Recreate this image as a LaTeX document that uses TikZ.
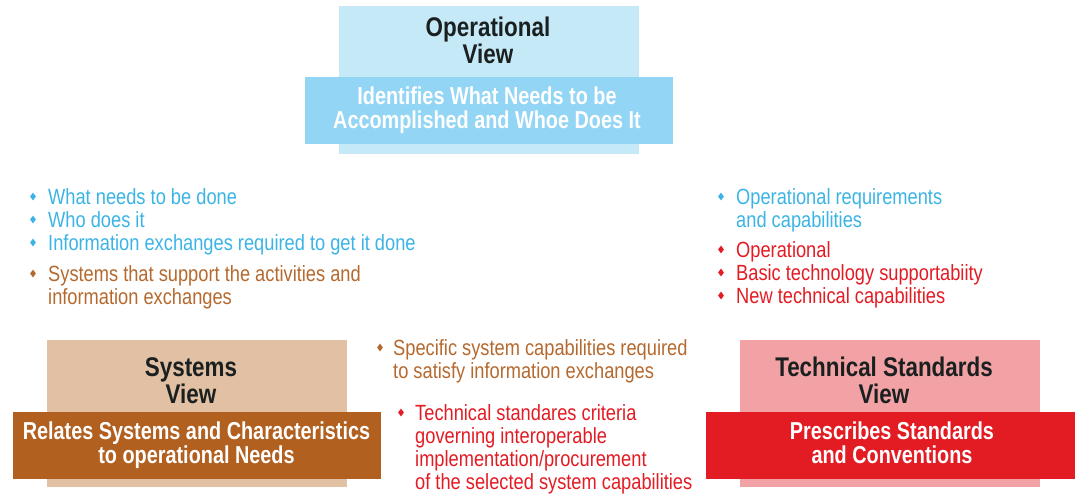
\documentclass[tikz,border=0pt]{standalone}
\usepackage{fontspec}
\setmainfont{Liberation Sans}
\newfontfamily\bodyfont{Liberation Sans}[FakeStretch=0.83]
\newfontfamily\titlefont{Liberation Sans}[FakeStretch=0.83]
\newfontfamily\innerfont{Liberation Sans}[FakeStretch=0.81]
\usetikzlibrary{shapes.geometric}
\definecolor{opbg}{HTML}{C6E9F8}
\definecolor{opband}{HTML}{93D5F4}
\definecolor{sysbg}{HTML}{E2C0A3}
\definecolor{sysband}{HTML}{B1601F}
\definecolor{tecbg}{HTML}{F2A2A4}
\definecolor{tecband}{HTML}{E31B23}
\definecolor{tblue}{HTML}{3BB4E5}
\definecolor{tbrown}{HTML}{B5692E}
\definecolor{tred}{HTML}{E31B23}
\definecolor{tdark}{HTML}{1A1F1F}
\tikzset{
  panel/.style={rectangle, draw=none, inner sep=0pt, outer sep=0pt},
  titletext/.style={anchor=base, align=center, inner sep=0pt, text=tdark,
    font=\titlefont\bfseries\fontsize{27}{27}\selectfont},
  bandtext/.style={anchor=base, align=center, inner sep=0pt, text=white,
    font=\innerfont\bfseries\fontsize{24.5}{23.5}\selectfont},
  itemtext/.style={anchor=base west, align=left, inner sep=0pt,
    font=\bodyfont\fontsize{22}{23}\selectfont},
  bul/.style={diamond, draw=none, inner sep=0pt, minimum width=6pt, minimum height=8pt}
}
\begin{document}
\begin{tikzpicture}[x=1pt,y=-1pt]
\useasboundingbox (0,0) rectangle (1078,493);
% Operational view
\node[panel, fill=opbg, minimum width=300pt, minimum height=148pt] (opbox) at (488.5,80) {};
\node[panel, fill=opband, minimum width=368pt, minimum height=67pt] (opband) at (489,110.5) {};
\node[titletext] (optitle) at (488,63) {Operational\\View};
\node[bandtext] (optext) at (487,128) {Identifies What Needs to be\\Accomplished and Whoe Does It};
% Systems view
\node[panel, fill=sysbg, minimum width=300pt, minimum height=147pt] (sysbox) at (197,413.5) {};
\node[panel, fill=sysband, minimum width=368pt, minimum height=67pt] (sysband) at (197,445.5) {};
\node[titletext] (systitle) at (191,403) {Systems\\View};
\node[bandtext] (systext) at (196.5,463) {Relates Systems and Characteristics\\to operational Needs};
% Technical standards view
\node[panel, fill=tecbg, minimum width=300pt, minimum height=147pt] (tecbox) at (890,413.5) {};
\node[panel, fill=tecband, minimum width=369pt, minimum height=67pt] (tecband) at (890.5,445.5) {};
\node[titletext] (tectitle) at (884,403) {Technical Standards\\View};
\node[bandtext] (tectext) at (892,463) {Prescribes Standards\\and Conventions};
% Left list
\node[itemtext, text=tblue] (l1) at (48,204) {What needs to be done};
\node[itemtext, text=tblue] (l2) at (48,227) {Who does it};
\node[itemtext, text=tblue] (l3) at (48,250) {Information exchanges required to get it done};
\node[itemtext, text=tbrown] (l4) at (48,304) {Systems that support the activities and\\information exchanges};
\node[bul, fill=tblue] (bl1) at (33,196.5) {};
\node[bul, fill=tblue] (bl2) at (33,219.5) {};
\node[bul, fill=tblue] (bl3) at (33,242.5) {};
\node[bul, fill=tbrown] (bl4) at (33,273.5) {};
% Right list
\node[itemtext, text=tblue] (r1) at (736,227) {Operational requirements\\and capabilities};
\node[itemtext, text=tred] (r2) at (736,257) {Operational};
\node[itemtext, text=tred] (r3) at (736,280) {Basic technology supportabiity};
\node[itemtext, text=tred] (r4) at (736,303) {New technical capabilities};
\node[bul, fill=tblue] (br1) at (721,196.5) {};
\node[bul, fill=tred] (br2) at (721,249.5) {};
\node[bul, fill=tred] (br3) at (721,272.5) {};
\node[bul, fill=tred] (br4) at (721,295.5) {};
% Middle list
\node[itemtext, text=tbrown] (m1) at (393,378) {Specific system capabilities required\\to satisfy information exchanges};
\node[itemtext, text=tred] (m2) at (415,489) {Technical standares criteria\\governing interoperable\\implementation/procurement\\of the selected system capabilities};
\node[bul, fill=tbrown] (bm1) at (380,347.5) {};
\node[bul, fill=tred] (bm2) at (401,412.5) {};
\end{tikzpicture}
\end{document}
